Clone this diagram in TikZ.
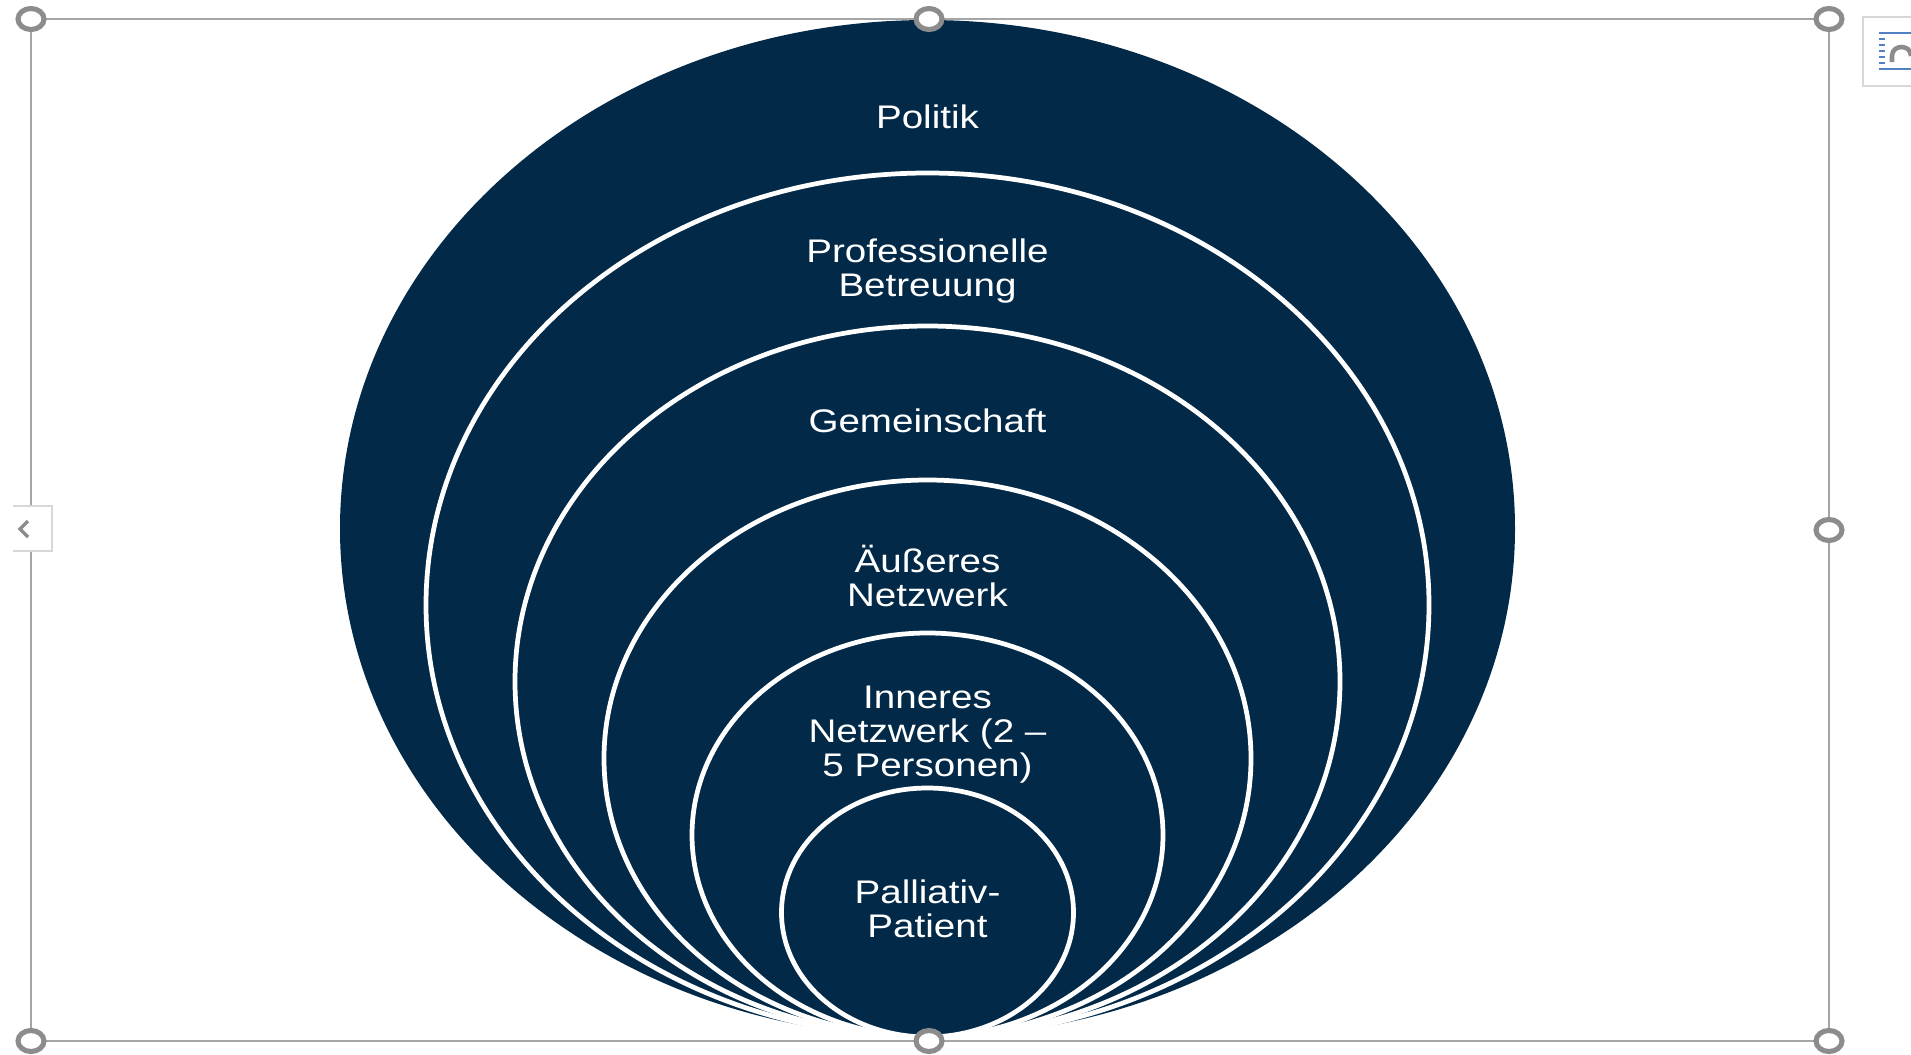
\documentclass[tikz,border=0pt]{standalone}
\usepackage{fontspec}
\setmainfont{Liberation Sans}
\usepackage{graphicx}

\definecolor{navy}{RGB}{2,41,71}
\definecolor{framegray}{RGB}{165,165,165}
\definecolor{handlegray}{RGB}{140,140,140}
\definecolor{tabgray}{RGB}{215,215,215}
\definecolor{iconblue}{RGB}{80,130,195}

\newcommand{\ringlabel}[1]{\scalebox{1.18}[1]{\fontsize{9.3}{9.7}\selectfont\begin{tabular}[t]{@{}c@{}}#1\end{tabular}}}

\tikzset{
  ring/.style={fill=navy, draw=white, line width=1.35pt},
  ringtext/.style={text=white, anchor=base, inner sep=0pt},
  handle/.style={draw=handlegray, fill=white, line width=1.45pt},
}

\begin{document}
\begin{tikzpicture}[x=0.1mm, y=-0.1mm]
  \useasboundingbox (0,0) rectangle (1911,1055);

  % selection frame
  \draw[framegray, line width=0.6pt] (31,19) rectangle (1829,1041);

  % rings, outer to inner
  \fill[navy] (927.5,528.5) ellipse [x radius=587.5, y radius=508.5];
  \foreach \cy/\rx/\ry in {605/501.5/432, 681.5/412.5/355.5,
      758.5/323.5/278.5, 835/235.5/202, 912.5/146/124.5}
    \draw[ring] (927.5,\cy) ellipse [x radius=\rx, y radius=\ry];

  \node[ringtext] (politik) at (927.5,128) {\ringlabel{Politik}};
  \node[ringtext] (betreuung) at (927.5,262) {\ringlabel{Professionelle\\Betreuung}};
  \node[ringtext] (gemeinschaft) at (927.5,432) {\ringlabel{Gemeinschaft}};
  \node[ringtext] (aeusseres) at (927.5,572) {\ringlabel{Äußeres\\Netzwerk}};
  \node[ringtext] (inneres) at (927.5,708) {\ringlabel{Inneres\\Netzwerk (2 –\\5 Personen)}};
  \node[ringtext] (patient) at (927.5,903) {\ringlabel{Palliativ-\\Patient}};

  % handles
  \foreach \hx/\hy in {31/19, 929/19, 1829/19, 1829/530, 31/1041, 929/1041, 1829/1041}
    \draw[handle] (\hx,\hy) ellipse [x radius=13, y radius=10.5];

  % left tab
  \fill[white] (13,506) rectangle (52,551);
  \draw[tabgray, line width=0.6pt] (13,506) -- (52,506) -- (52,551) -- (13,551);
  \draw[handlegray, line width=1pt] (28,521) -- (20,529) -- (28,537);

  % layout icon
  \draw[tabgray, line width=0.6pt, fill=white] (1911,17) -- (1863,17) -- (1863,86) -- (1911,86);
  \foreach \ly in {33,69}
    \draw[iconblue, line width=0.8pt] (1879,\ly) -- (1911,\ly);
  \foreach \ly in {39,45,51,57,63}
    \draw[iconblue, line width=0.8pt] (1879,\ly) -- (1885,\ly);
  \draw[handlegray, line width=1.3pt] (1892,62) -- (1892,56) .. controls (1892,44) and (1911,44) .. (1911,56);
\end{tikzpicture}
\end{document}
